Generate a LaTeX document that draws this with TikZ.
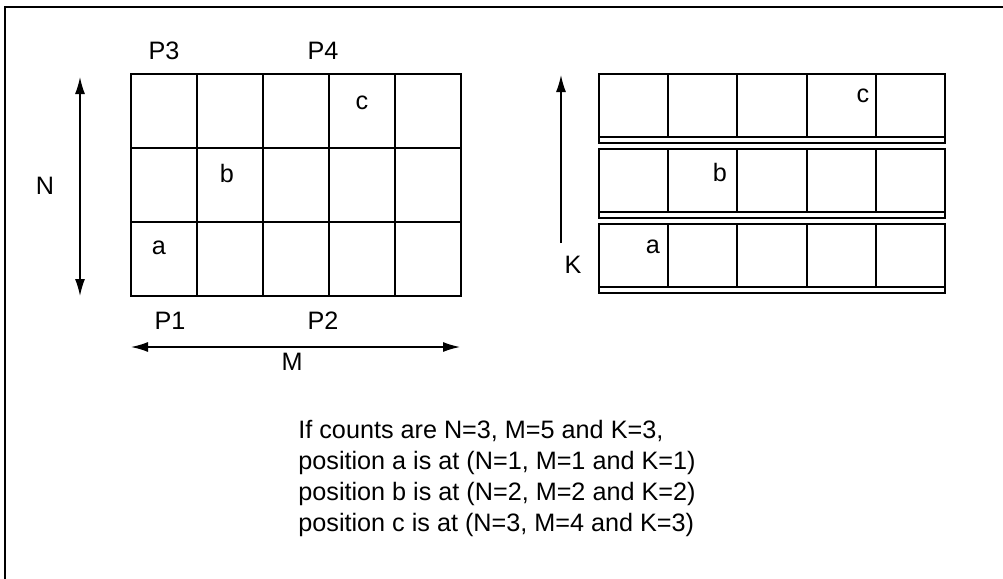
\documentclass[tikz,border=0pt]{standalone}
\usepackage{fontspec}
\setmainfont{Liberation Sans}
\usetikzlibrary{arrows.meta}

\tikzset{
  cellline/.style={line width=0.7pt},
  dimarrow/.style={line width=0.7pt},
  lbl/.style={font=\fontsize{12.6}{15.5}\selectfont, inner sep=0pt},
}

\begin{document}
\begin{tikzpicture}[x=0.5pt,y=-0.5pt]
    \useasboundingbox (0,0) rectangle (1003,579);

    % Frame
    \draw[line width=1pt] (5,579) -- (5,7) -- (1003,7);

    % Left grid
    \draw[cellline] (131,74) rectangle (461,296);
    \foreach \x in {197,263,329,395}
        \draw[cellline] (\x,74) -- (\x,296);
    \foreach \y in {148,222}
        \draw[cellline] (131,\y) -- (461,\y);
    \node[lbl] (a1) at (159,248) {a};
    \node[lbl] (b1) at (227,173) {b};
    \node[lbl] (c1) at (362,103) {c};

    % Corner labels
    \node[lbl] (p3) at (164,51) {P3};
    \node[lbl] (p4) at (323,51) {P4};
    \node[lbl] (p1) at (170,321) {P1};
    \node[lbl] (p2) at (323,321) {P2};

    % N and M arrows
    \coordinate (ntop) at (80,77);
    \coordinate (nbot) at (80,296);
    \draw[dimarrow, {Latex[length=8.5pt,width=5pt]}-{Latex[length=8.5pt,width=5pt]}] (ntop) -- (nbot);
    \node[lbl] (nlab) at (45,186) {N};
    \coordinate (mleft) at (131,347);
    \coordinate (mright) at (460,347);
    \draw[dimarrow, {Latex[length=8.5pt,width=5pt]}-{Latex[length=8.5pt,width=5pt]}] (mleft) -- (mright);
    \node[lbl] (mlab) at (292,362) {M};

    % Right strips
    \foreach \t in {74,149,224} {
        \draw[cellline] (599,\t) rectangle (945,\t+69);
        \draw[cellline] (599,\t+63) -- (945,\t+63);
        \foreach \x in {668,737,807,876}
            \draw[cellline] (\x,\t) -- (\x,\t+63);
    }
    \node[lbl] (a2) at (653,247) {a};
    \node[lbl] (b2) at (720,172) {b};
    \node[lbl] (c2) at (863,96) {c};

    % K arrow
    \coordinate (kbot) at (561,243);
    \coordinate (ktop) at (561,75);
    \draw[dimarrow, -{Latex[length=8.5pt,width=5pt]}] (kbot) -- (ktop);
    \node[lbl] (klab) at (573,265) {K};

    % Note
    \node[lbl, align=left, anchor=base west] (note) at (298,531)
        {If counts are N=3, M=5 and K=3,\\
         position a is at (N=1, M=1 and K=1)\\
         position b is at (N=2, M=2 and K=2)\\
         position c is at (N=3, M=4 and K=3)};
\end{tikzpicture}
\end{document}
